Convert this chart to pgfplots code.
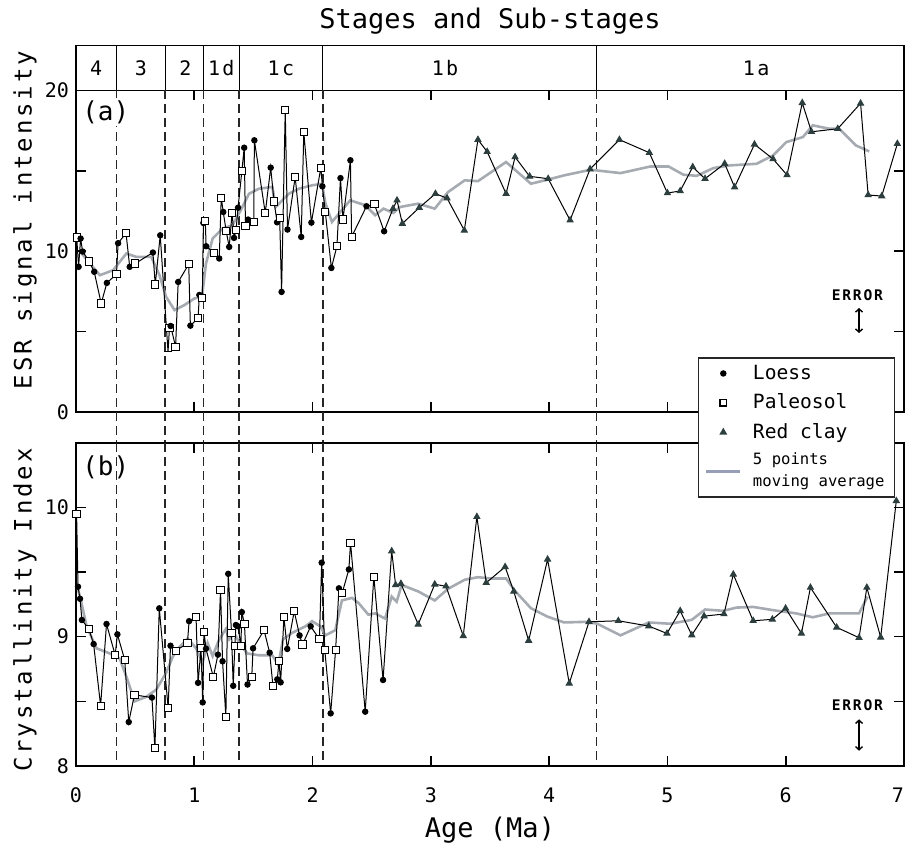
\documentclass[border=0pt]{standalone}
\usepackage{fontspec}
\setmainfont{DejaVu Sans Mono}
\newfontfamily\spaced{DejaVu Sans Mono}[LetterSpace=12]
\usepackage{pgfplots}
\pgfplotsset{compat=1.18}
\usetikzlibrary{arrows.meta}

\definecolor{avg}{RGB}{166,171,178}
\definecolor{avgleg}{RGB}{150,158,184}
\definecolor{clay}{RGB}{45,62,62}

\tikzset{dashline/.style={line width=0.8pt, black!85, dash pattern=on 4.5pt off 2.5pt}}

\pgfplotsset{
  panel/.style={
    scale only axis, width=414pt, xmin=0, xmax=7,
    anchor=south west, clip=false,
    axis line style={line width=0.9pt},
    tick align=inside, major tick length=5pt,
    tick style={line width=0.8pt, black},
    xtick={0,...,7},
    /pgf/number format/assume math mode=true,
    ticklabel style={font=\fontsize{10}{10}\selectfont},
    ylabel style={font=\fontsize{12}{12}\selectfont\spaced, rotate=0, anchor=center},
  },
  mavg/.style={avg, line width=1.3pt},
  samples/.style={black, line width=0.5pt, scatter, scatter src=explicit symbolic,
    scatter/classes={
      l={mark=*, mark size=1.35pt, draw=black, fill=black},
      p={mark=square*, mark size=1.8pt, draw=black, fill=white},
      r={mark=triangle*, mark size=1.7pt, draw=clay, fill=clay},
      n={mark=-, mark size=2pt, draw=black}}},
}

\begin{document}
\begin{tikzpicture}
\useasboundingbox (0,0) rectangle (452.5pt,427.5pt);

% stages band
\begin{axis}[scale only axis, width=414pt, height=22.5pt, at={(38pt,382.25pt)}, anchor=south west,
  xmin=0, xmax=7, ymin=0, ymax=1, xtick=\empty, ytick=\empty, clip=false,
  axis line style={line width=0.9pt}]
\pgfplotsinvokeforeach{0.342,0.754,1.077,1.38,2.086,4.40}{\draw[line width=0.6pt] (axis cs:#1,0) -- (axis cs:#1,1);}
\begin{scope}[font=\fontsize{10}{10}\selectfont\spaced]
\node at (axis cs:0.171,0.5) {4};
\node at (axis cs:0.548,0.5) {3};
\node at (axis cs:0.925,0.5) {2};
\node at (axis cs:1.228,0.5) {1d};
\node at (axis cs:1.733,0.5) {1c};
\node at (axis cs:3.12,0.5) {1b};
\node at (axis cs:5.75,0.5) {1a};
\end{scope}
\node[anchor=base, font=\fontsize{13.5}{13.5}\selectfont] at (axis cs:3.5,1) [yshift=8.25pt] {Stages and Sub-stages};
\end{axis}

% panel (a)
\begin{axis}[panel, at={(38pt,221.5pt)}, height=160.75pt,
  ymin=0, ymax=20, ytick={0,5,10,15,20}, yticklabels={0,,10,,20},
  xticklabels={},
  ylabel={ESR signal intensity},
  ylabel style={at={(axis description cs:-0.0616,0.597)}, rotate=0}]
\pgfplotsinvokeforeach{0.342,0.754,1.077,1.38,2.086,4.40}{\draw[dashline] (axis cs:#1,20) -- (axis cs:#1,-1.91);}
\addplot[mavg] table {
0.048 9.86
0.118 9.24
0.202 8.51
0.314 8.82
0.426 9.86
0.51 9.65
0.636 9.65
0.706 8.51
0.762 7.16
0.833 6.34
0.917 6.65
1.0 7.06
1.065 7.16
1.099 9.24
1.155 10.79
1.239 11.41
1.323 11.62
1.393 12.55
1.463 13.58
1.547 13.89
1.66 14.0
1.688 12.75
1.8 13.58
1.884 13.89
1.996 14.1
2.08 14.2
2.108 13.0
2.164 11.82
2.318 13.17
2.445 12.86
2.529 12.24
2.6 12.65
2.683 12.38
2.739 12.75
2.893 12.96
3.033 12.65
3.145 13.68
3.286 14.41
3.398 14.36
3.51 14.92
3.636 15.55
3.734 14.92
3.846 14.2
3.986 14.45
4.127 14.72
4.351 15.07
4.603 14.86
4.855 15.27
5.01 15.27
5.136 14.76
5.248 14.69
5.388 15.17
5.528 15.34
5.754 15.44
5.893 15.96
6.005 16.79
6.145 17.1
6.229 17.83
6.37 17.62
6.453 17.62
6.594 16.58
6.706 16.21
};
\addplot[samples] table[meta=t] {
x y t
0.006 10.85 p
0.022 9.03 l
0.039 10.79 l
0.056 9.98 l
0.112 9.36 p
0.154 8.72 l
0.213 6.75 p
0.261 8.03 l
0.342 8.57 p
0.356 10.5 l
0.423 11.12 p
0.454 9.03 l
0.502 9.24 p
0.650 9.92 l
0.670 7.93 p
0.712 10.99 l
0.778 3.75 n
0.790 5.2 p
0.800 5.35 l
0.842 4.06 p
0.864 8.09 l
0.953 9.19 p
0.967 5.37 l
1.032 5.83 p
1.043 7.28 l
1.068 7.07 p
1.077 11.76 l
1.093 11.9 p
1.100 10.31 l
1.166 9.9 p
1.211 9.55 l
1.228 13.33 p
1.245 12.44 l
1.270 11.24 p
1.295 10.27 l
1.320 12.4 p
1.336 10.83 l
1.353 11.3 p
1.370 12.71 l
1.402 14.97 p
1.422 16.44 l
1.433 11.55 p
1.455 11.97 l
1.503 11.8 p
1.508 16.9 l
1.600 12.38 p
1.646 15.2 l
1.674 13.1 p
1.700 11.8 l
1.722 12.05 p
1.738 7.47 l
1.769 18.8 p
1.788 11.35 l
1.853 14.62 p
1.904 10.89 l
1.926 17.41 p
1.990 11.78 l
2.070 15.2 p
2.083 14.04 l
2.108 12.42 p
2.159 8.96 l
2.206 10.31 p
2.236 14.55 l
2.257 11.98 p
2.320 15.66 l
2.330 10.89 p
2.456 12.8 l
2.523 12.92 p
2.605 11.24 l
2.680 12.65 r
2.714 13.17 r
2.759 11.72 r
2.902 12.71 r
3.039 13.58 r
3.137 13.3 r
3.283 11.3 r
3.398 16.94 r
3.476 16.19 r
3.636 13.58 r
3.712 15.86 r
3.835 14.66 r
3.992 14.51 r
4.177 11.93 r
4.346 15.11 r
4.594 16.94 r
4.847 16.13 r
5.000 13.62 r
5.108 13.75 r
5.214 15.24 r
5.318 14.51 r
5.484 15.45 r
5.568 13.99 r
5.736 16.65 r
5.893 15.74 r
6.011 14.74 r
6.140 19.23 r
6.218 17.43 r
6.440 17.62 r
6.633 19.2 r
6.697 13.5 r
6.812 13.43 r
6.944 16.69 r
};
\node[font=\fontsize{13}{13}\selectfont, fill=white, inner sep=1pt] at (axis cs:0.252,18.66) {(a)};
\node[font=\fontsize{7.3}{7.3}\selectfont\bfseries\spaced] at (axis cs:6.606,7.25) {ERROR};
\draw[line width=0.7pt, {Straight Barb[length=1.6pt,width=3.5pt]}-{Straight Barb[length=1.6pt,width=3.5pt]}] (axis cs:6.62,6.47) -- (axis cs:6.62,4.91);
\end{axis}

% panel (b)
\begin{axis}[panel, at={(38pt,44.5pt)}, height=161.65pt,
  ymin=8, ymax=10.5, ytick={8,8.5,9,9.5,10}, yticklabels={8,,9,,10},
  xticklabels={0,1,2,3,4,5,6,\makebox[0pt][r]{7}},
  xticklabel style={anchor=base, yshift=-18.25pt},
  xlabel={Age (Ma)},
  xlabel style={font=\fontsize{13.5}{13.5}\selectfont, at={(axis description cs:0.5,-0.198)}, anchor=center},
  ylabel={Crystallinity Index},
  ylabel style={at={(axis description cs:-0.0616,0.4825)}, rotate=0},
  legend style={at={(rel axis cs:0.751,1.265)}, anchor=north west, draw=black!85, line width=0.8pt,
    fill=white, font=\fontsize{9.8}{11}\selectfont, cells={anchor=west, align=left},
    inner xsep=3pt, inner ysep=1.5pt, row sep=1.8pt,
    /tikz/every odd column/.append style={column sep=3.5pt}}]
\pgfplotsinvokeforeach{0.342,0.754,1.077,1.38,2.086,4.40}{\draw[dashline] (axis cs:#1,8.05) -- (axis cs:#1,10.5);}
\addplot[mavg, forget plot] table {
0.011 9.386
0.034 9.31
0.09 9.08
0.174 8.91
0.286 8.87
0.37 8.83
0.426 8.69
0.496 8.5
0.594 8.535
0.678 8.59
0.762 8.72
0.818 8.845
0.875 8.92
0.945 8.986
1.015 8.91
1.071 8.8
1.113 8.95
1.155 8.85
1.211 8.98
1.267 9.06
1.295 8.98
1.337 9.03
1.393 8.93
1.449 8.87
1.547 8.856
1.66 8.856
1.71 8.78
1.75 8.98
1.828 9.03
1.94 9.08
1.996 9.12
2.066 9.08
2.108 9.01
2.192 9.05
2.248 9.28
2.333 9.3
2.389 9.26
2.472 9.17
2.529 9.18
2.613 9.14
2.669 9.31
2.711 9.27
2.753 9.4
2.893 9.35
3.033 9.28
3.145 9.37
3.286 9.44
3.398 9.46
3.51 9.45
3.636 9.45
3.706 9.36
3.846 9.22
3.986 9.155
4.127 9.11
4.323 9.115
4.407 9.1
4.603 9.01
4.842 9.11
5.025 9.1
5.206 9.13
5.318 9.21
5.472 9.2
5.584 9.225
5.725 9.23
5.893 9.205
6.089 9.18
6.229 9.15
6.37 9.18
6.62 9.18
6.692 9.31
};
\addplot[samples, forget plot] table[meta=t] {
x y t
0.005 9.948 p
0.017 9.386 l
0.034 9.293 l
0.050 9.129 l
0.109 9.059 p
0.149 8.943 l
0.208 8.466 p
0.258 9.098 l
0.331 8.858 p
0.350 9.018 l
0.412 8.82 p
0.446 8.34 l
0.494 8.55 p
0.642 8.529 l
0.667 8.137 p
0.704 9.219 l
0.779 8.45 p
0.799 8.93 l
0.844 8.892 p
0.942 8.948 p
0.956 9.12 l
1.015 9.153 p
1.032 8.643 l
1.057 8.912 p
1.071 8.492 l
1.082 9.038 p
1.099 8.907 l
1.161 8.688 p
1.200 8.861 l
1.222 9.36 p
1.239 8.81 l
1.267 8.38 p
1.287 9.486 l
1.315 9.028 p
1.329 8.62 l
1.343 8.93 p
1.352 9.09 l
1.370 9.08 l
1.394 8.93 p
1.402 9.19 l
1.424 9.098 p
1.450 8.63 l
1.486 8.69 p
1.497 8.91 l
1.590 9.05 p
1.637 8.876 l
1.665 8.62 p
1.702 8.67 l
1.716 8.81 p
1.730 8.647 l
1.758 9.15 p
1.786 8.905 l
1.845 9.197 p
1.890 9.01 l
1.915 8.94 p
1.984 9.08 l
2.058 8.98 p
2.077 9.572 l
2.103 8.9 p
2.153 8.407 l
2.195 8.9 p
2.223 9.374 l
2.251 9.34 p
2.307 9.52 l
2.321 9.726 p
2.445 8.42 l
2.518 9.464 p
2.596 8.665 l
2.669 9.662 r
2.702 9.4 r
2.747 9.41 r
2.893 9.095 r
3.033 9.405 r
3.128 9.39 r
3.274 9.006 r
3.389 9.927 r
3.468 9.417 r
3.628 9.54 r
3.701 9.35 r
3.827 8.97 r
3.987 9.598 r
4.170 8.639 r
4.337 9.115 r
4.585 9.123 r
4.842 9.082 r
4.996 9.025 r
5.108 9.2 r
5.206 9.012 r
5.310 9.159 r
5.478 9.175 r
5.557 9.482 r
5.725 9.123 r
5.887 9.134 r
5.999 9.219 r
6.133 9.025 r
6.209 9.38 r
6.431 9.072 r
6.620 8.992 r
6.686 9.38 r
6.803 8.995 r
6.935 10.05 r
};
\addlegendimage{only marks, mark=*, mark size=1.2pt, black}
\addlegendentry{Loess}
\addlegendimage{only marks, mark=square, mark size=1.6pt, black}
\addlegendentry{Paleosol}
\addlegendimage{only marks, mark=triangle*, mark size=1.5pt, clay}
\addlegendentry{Red clay}
\addlegendimage{avgleg, line width=1.6pt}
\addlegendentry{\fontsize{7.8}{10}\selectfont 5 points\\\fontsize{7.8}{10}\selectfont moving average}
\node[font=\fontsize{13}{13}\selectfont, inner sep=1pt] at (axis cs:0.252,10.31) {(b)};
\node[font=\fontsize{7.3}{7.3}\selectfont\bfseries\spaced] at (axis cs:6.606,8.468) {ERROR};
\draw[line width=0.7pt, {Straight Barb[length=1.6pt,width=3.5pt]}-{Straight Barb[length=1.6pt,width=3.5pt]}] (axis cs:6.62,8.361) -- (axis cs:6.62,8.118);
\end{axis}
\end{tikzpicture}
\end{document}
